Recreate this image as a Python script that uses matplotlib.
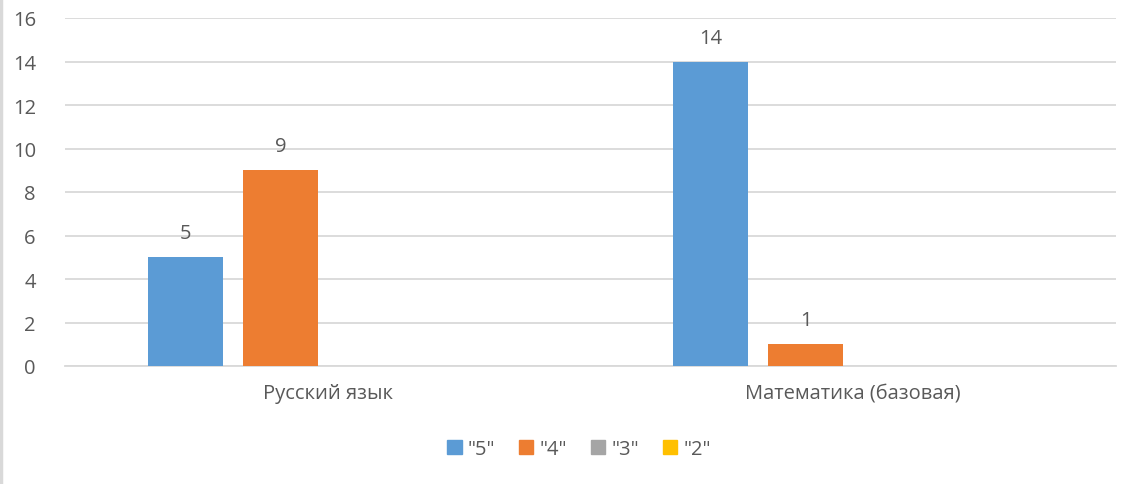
import matplotlib.pyplot as plt
import numpy as np
from matplotlib.lines import Line2D
from matplotlib.patches import Patch

plt.rcParams['font.family'] = ['Open Sans', 'DejaVu Sans']

# Data
categories = ["Русский язык", "Математика (базовая)"]
series_names = ['"5"', '"4"', '"3"', '"2"']
values_5 = [5, 14]
values_4 = [9, 1]
values_3 = [np.nan, np.nan]
values_2 = [np.nan, np.nan]
colors = ["#5B9BD5", "#ED7D31", "#A5A5A5", "#FFC000"]

series = [values_5, values_4, values_3, values_2]
text_color = "#595959"
grid_color = "#D9D9D9"
fs = 14.5

fig = plt.figure(figsize=(11.24, 4.85), dpi=100)
ax = fig.add_axes([65 / 1124, (485 - 367) / 485, (1116 - 65) / 1124, (367 - 19) / 485])

x = np.arange(len(categories))
bar_w = 75 / 525.5
gap = 20 / 525.5
step = bar_w + gap
offsets = (np.arange(len(series)) - (len(series) - 1) / 2) * step

for vals, name, col, off in zip(series, series_names, colors, offsets):
    bars = ax.bar(x + off, vals, width=bar_w, color=col, label=name, zorder=3)
    for b, v in zip(bars, vals):
        if not np.isnan(v):
            ax.annotate(f"{v:g}", (b.get_x() + b.get_width() / 2, v),
                        xytext=(0, 10), textcoords="offset points",
                        ha="center", va="bottom", fontsize=fs, color=text_color)

ax.set_xlim(-0.5, len(categories) - 0.5)
ax.set_ylim(0, 16)
ax.set_yticks(np.arange(0, 17, 2))
ax.set_xticks(x)
ax.set_xticklabels(categories)
ax.tick_params(axis="both", length=0, labelsize=fs, labelcolor=text_color)
ax.tick_params(axis="y", pad=21)
ax.tick_params(axis="x", pad=12)
ax.yaxis.grid(True, color=grid_color, linewidth=1.3, zorder=0)
for s in ["top", "right", "left"]:
    ax.spines[s].set_visible(False)
ax.spines["bottom"].set_color(grid_color)
ax.spines["bottom"].set_linewidth(1.3)

handles = [Patch(color=c) for c in colors]
fig.legend(handles, series_names, loc="center", bbox_to_anchor=(579 / 1124, 1 - 450 / 485),
           ncol=4, frameon=False, fontsize=fs, labelcolor=text_color,
           handlelength=0.7, handleheight=0.7, handletextpad=0.3, columnspacing=1.2)

fig.add_artist(Line2D([0.001, 0.001], [0, 1], color=grid_color, linewidth=2.5, transform=fig.transFigure))

fig.savefig("out.png", dpi=100, facecolor="white")
